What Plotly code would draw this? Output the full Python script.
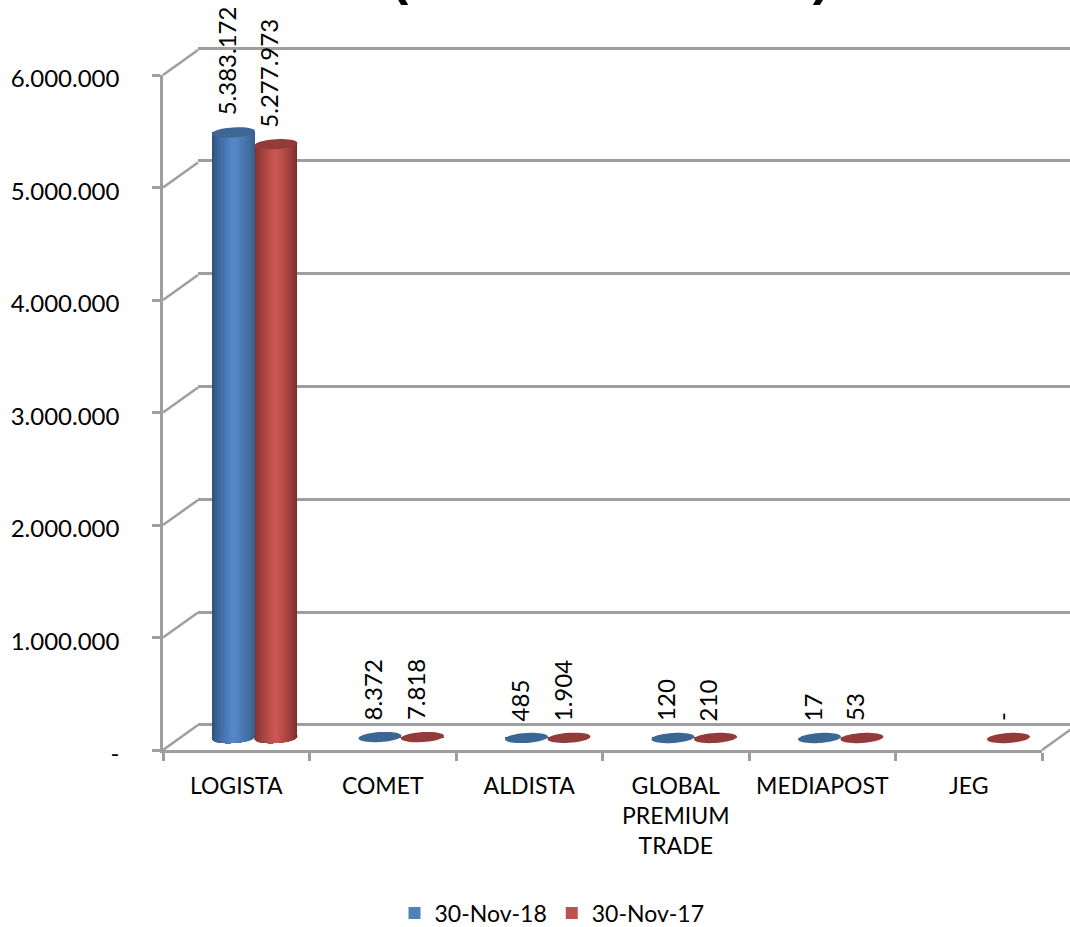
import math
import plotly.graph_objects as go

# ---- data ----
categories = ["LOGISTA", "COMET", "ALDISTA", "GLOBAL<br>PREMIUM<br>TRADE", "MEDIAPOST", "JEG"]
series_names = ["30-Nov-18", "30-Nov-17"]
values_2018 = [5383172, 8372, 485, 120, 17, None]
values_2017 = [5277973, 7818, 1904, 210, 53, 0]
y_ticks = [0, 1000000, 2000000, 3000000, 4000000, 5000000, 6000000]
title_text = "(                            )"

W, H = 1070, 927
FONT = "Lato"
GRID = "#9e9e9e"
LW = 2.5
Y_MAX = max(y_ticks)
SCALE = 675 / Y_MAX  # pixels per unit
FLOOR_PAD = 16       # pixels kept below zero on the mid-depth axis
WALL_PAD = 3         # keeps the first and last back wall lines inside their axis


def fx(px):
    return px / W


def fy(px):
    return 1 - px / H


def fmt(v):
    if v is None:
        return None
    return "-" if v == 0 else f"{v:,}".replace(",", ".")


def shade(base_edge, base_mid, t):
    return "rgb(%d,%d,%d)" % tuple(round(a + (b - a) * t) for a, b in zip(base_edge, base_mid))


STYLES = [
    dict(name=series_names[0], values=values_2018, left=(46, 84, 130), right=(56, 96, 142),
         mid=(86, 134, 200), legend="#4f81bd", cap="#3c6694", off=-0.288),
    dict(name=series_names[1], values=values_2017, left=(130, 50, 48), right=(122, 46, 44),
         mid=(204, 86, 82), legend="#c0504d", cap="#933b39", off=0.002),
]
BAR_W = 0.292
STEPS = 14
HIGHLIGHT = 0.5
A, B, TILT = 21.5, 5.0, 0.06

fig = go.Figure()
xs = list(range(len(categories)))
shapes = []
annotations = []


def lower_path(x0, x1):
    pts = []
    n = 14
    for i in range(n + 1):
        x = x0 + (x1 - x0) * i / n
        u = max(-1, min(1, x / A))
        pts.append((x, -B * math.sqrt(1 - u * u) + TILT * x))
    pts.append((x1, 3))
    pts.append((x0, 3))
    return "M" + " L".join(f"{a:.2f},{b:.2f}" for a, b in pts) + " Z"


def full_path():
    pts = []
    n = 40
    for i in range(n):
        t = 2 * math.pi * i / n
        x = A * math.cos(t)
        pts.append((x, B * math.sin(t) + TILT * x))
    return "M" + " L".join(f"{a:.2f},{b:.2f}" for a, b in pts) + " Z"


# keep the front axes and the back wall subplot alive
fig.add_trace(go.Scatter(x=[categories[0]], y=[None], xaxis="x", yaxis="y", showlegend=False,
                         hoverinfo="skip", mode="lines"))
fig.add_trace(go.Scatter(x=[None], y=[None], xaxis="x2", yaxis="y2", showlegend=False,
                         hoverinfo="skip", mode="lines"))

for st in STYLES:
    for k in range(STEPS):
        t = k / (STEPS - 1)
        frac_l = HIGHLIGHT * k / STEPS
        frac_r = 1 - (1 - HIGHLIGHT) * k / STEPS
        col = shade(st["left"], st["mid"], t ** 0.8)
        col_r = shade(st["right"], st["mid"], t ** 0.8)
        for side in (0, 1):
            if side == 0:
                lo, hi, c = frac_l, HIGHLIGHT + 0.01, col
            else:
                lo, hi, c = HIGHLIGHT, frac_r, col_r
            fig.add_trace(go.Bar(
                x=xs, y=st["values"], xaxis="x3", yaxis="y3",
                width=BAR_W * (hi - lo), offset=st["off"] + BAR_W * lo,
                marker=dict(color=c, line=dict(width=0)),
                showlegend=False, hoverinfo="skip",
            ))
            for x, v in zip(xs, st["values"]):
                if v and v > 100000:
                    cx = x + st["off"] + BAR_W / 2
                    shapes.append(dict(
                        type="path", xref="x3", yref="y3", xsizemode="pixel", ysizemode="pixel",
                        xanchor=cx, yanchor=0, line=dict(width=0), fillcolor=c,
                        path=lower_path(-A + 2 * A * lo, -A + 2 * A * hi),
                    ))
    for x, v in zip(xs, st["values"]):
        if v is None:
            continue
        cx = x + st["off"] + BAR_W / 2
        shapes.append(dict(
            type="path", xref="x3", yref="y3", xsizemode="pixel", ysizemode="pixel",
            xanchor=cx, yanchor=v, line=dict(width=0), fillcolor=st["cap"], path=full_path(),
        ))
        annotations.append(dict(
            xref="x3", yref="y3", x=cx, y=v, text=fmt(v), textangle=-90, showarrow=False,
            xanchor="center", yanchor="bottom", yshift=15, xshift=-7,
            font=dict(family=FONT, size=24, color="#000000"),
        ))
    fig.add_trace(go.Bar(
        x=[None], y=[None], name=st["name"], xaxis="x3", yaxis="y3",
        marker=dict(color=st["legend"], line=dict(width=0)),
    ))

# wall depth lines from the front axis ticks to the back wall
for tv in y_ticks:
    py = 750 - tv * SCALE
    shapes.append(dict(
        type="line", xref="paper", yref="paper", layer="below",
        x0=fx(163), y0=fy(py), x1=fx(198), y1=fy(py - 25),
        line=dict(color=GRID, width=LW),
    ))
shapes.append(dict(
    type="line", xref="paper", yref="paper", layer="below",
    x0=fx(1042), y0=fy(750), x1=fx(1077), y1=fy(725),
    line=dict(color=GRID, width=LW),
))

annotations.append(dict(
    xref="paper", yref="paper", x=fx(610), y=fy(-24), text=title_text, showarrow=False,
    xanchor="center", yanchor="middle",
    font=dict(family="Liberation Sans", size=52, color="#000000", weight="bold"),
))

fig.update_layout(
    width=W, height=H, margin=dict(l=0, r=0, t=0, b=0, autoexpand=False), autosize=False,
    paper_bgcolor="#ffffff", plot_bgcolor="rgba(0,0,0,0)",
    barmode="overlay", bargap=0, showlegend=True,
    font=dict(family=FONT, size=23, color="#000000"),
    legend=dict(
        orientation="h", x=fx(552), y=fy(913), xanchor="center", yanchor="middle",
        font=dict(family=FONT, size=23), itemwidth=30, tracegroupgap=0,
        bgcolor="rgba(0,0,0,0)",
    ),
    xaxis=dict(
        domain=[fx(163), fx(1042)], type="category", categoryorder="array",
        categoryarray=categories, tickmode="array", tickvals=categories, ticktext=categories,
        range=[-0.5, len(categories) - 0.5], tickson="boundaries", ticks="outside", ticklen=8,
        tickwidth=LW, tickcolor=GRID, showline=True, linecolor=GRID, linewidth=LW,
        showgrid=False, zeroline=False, anchor="y", tickangle=0, ticklabelstandoff=14,
        tickfont=dict(family=FONT, size=23), fixedrange=True,
    ),
    yaxis=dict(
        domain=[fy(750), fy(75)], range=[0, Y_MAX], tickmode="array", tickvals=y_ticks,
        ticktext=[fmt(v) for v in y_ticks], ticks="outside", ticklen=8, tickwidth=LW,
        tickcolor=GRID, showline=True, linecolor=GRID, linewidth=LW, showgrid=False,
        zeroline=False, anchor="x", ticklabelstandoff=28, ticklabelshift=4,
        tickfont=dict(family=FONT, size=24), fixedrange=True,
    ),
    xaxis2=dict(domain=[fx(198), 1], range=[0, 1], showticklabels=False, ticks="",
                showgrid=False, zeroline=False, showline=False, anchor="y2", fixedrange=True),
    yaxis2=dict(
        domain=[fy(725 + WALL_PAD), fy(48 - WALL_PAD)],
        range=[-WALL_PAD / SCALE * 677 / 675, Y_MAX * 677 / 675 + WALL_PAD / SCALE * 677 / 675],
        tickmode="array",
        tickvals=[v * 677 / 675 for v in y_ticks],
        showticklabels=False, ticks="", showgrid=True, gridcolor=GRID, gridwidth=LW,
        zeroline=False, showline=False, anchor="x2", fixedrange=True,
    ),
    xaxis3=dict(
        domain=[fx(181), fx(1060)], range=[-0.5, len(categories) - 0.5], visible=False,
        anchor="y3", fixedrange=True,
    ),
    yaxis3=dict(
        domain=[fy(738 + FLOOR_PAD), fy(63)], range=[-FLOOR_PAD / SCALE, Y_MAX], visible=False,
        anchor="x3", fixedrange=True,
    ),
    shapes=shapes, annotations=annotations,
)

fig.write_html("out.html", post_script="document.body.style.margin='0';",
               config=dict(displayModeBar=False))
